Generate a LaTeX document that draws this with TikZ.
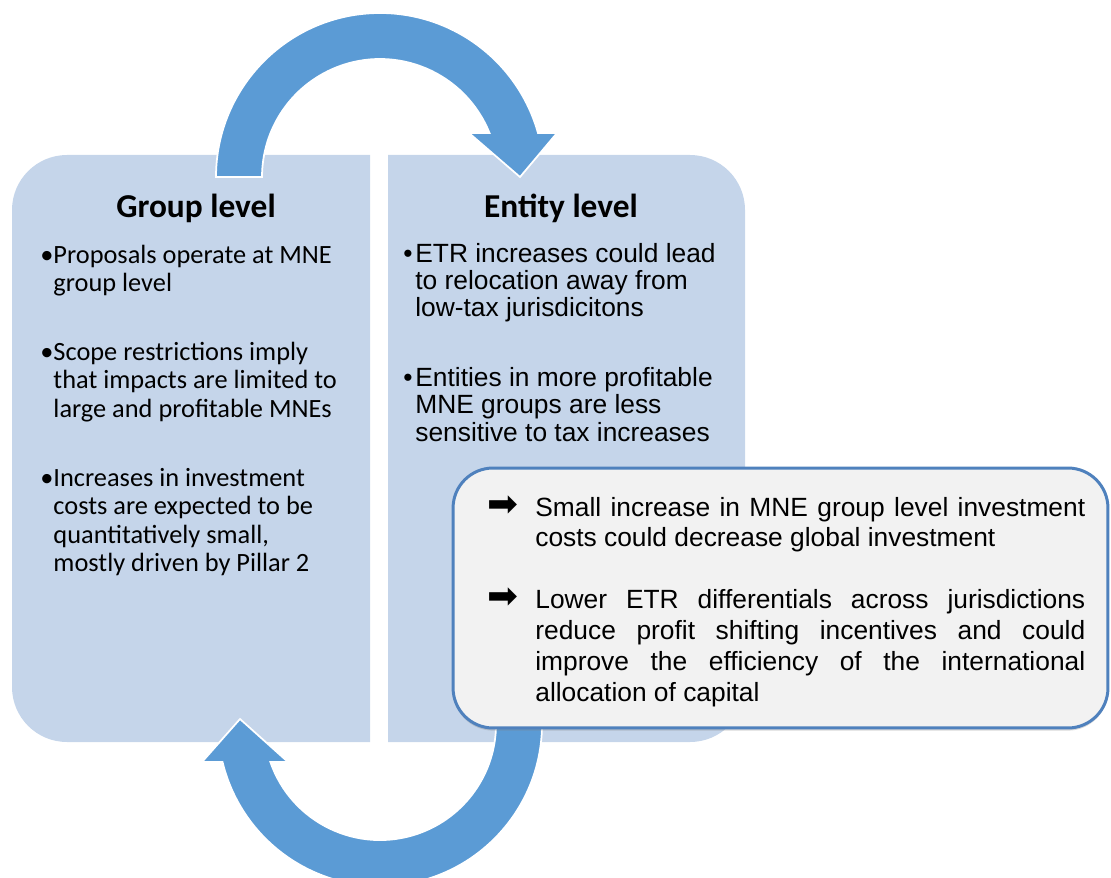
\documentclass[tikz,border=0pt]{standalone}
\usepackage{fontspec}
\setmainfont{Carlito}
\newfontfamily\arialfont{Liberation Sans}
\newfontfamily\dejavufont{DejaVu Sans}
\definecolor{panelblue}{RGB}{197,213,234}
\definecolor{arrowblue}{RGB}{91,155,213}
\definecolor{calloutblue}{RGB}{79,129,189}
\definecolor{calloutgray}{RGB}{242,242,242}
\usetikzlibrary{shadows}

\begin{document}
\begin{tikzpicture}[x=0.02cm,y=0.02cm,
      panel/.style={fill=panelblue},
      bigarrow/.style={fill=arrowblue,draw=white,line width=1pt},
      title/.style={anchor=base,inner sep=0pt,font=\fontsize{19}{22}\selectfont\bfseries},
      grouplist/.style={anchor=base west,inner sep=0pt,font=\fontsize{15}{16.2}\selectfont},
      entitylist/.style={anchor=base west,inner sep=0pt,font=\arialfont\fontsize{15}{15.6}\selectfont},
      impactlist/.style={anchor=base west,inner sep=0pt,font=\arialfont\fontsize{15}{17.6}\selectfont},
      calloutbox/.style={rectangle,rounded corners=0.8cm,draw=calloutblue,fill=calloutgray,line width=1.7pt,minimum width=13.1cm,minimum height=5.2cm,inner sep=0pt,drop shadow={shadow xshift=0pt,shadow yshift=-1.5pt,opacity=0.3}}
    ]
    \useasboundingbox (0,0) rectangle (1111,877);

    % the two level panels
    \fill[panel] (370,722) -- (67,722) arc[start angle=90,end angle=180,radius=55] -- (12,190) arc[start angle=180,end angle=270,radius=55] -- (370,135) -- cycle;
    \fill[panel] (388,135) -- (388,722) -- (690,722) arc[start angle=90,end angle=0,radius=55] -- (745,190) arc[start angle=0,end angle=-90,radius=55] -- cycle;

    % circular arrows
    \draw[bigarrow] (216,700) arc[start angle=180,end angle=15.6,radius=164] -- (557,744) -- (520,700) -- (469,744) -- (489.5,744) arc[start angle=21.9,end angle=180,radius=118] -- cycle;
    \draw[bigarrow] (542,153) arc[start angle=0,end angle=-166.4,radius=162] -- (202,115) -- (240,158) -- (288,115) -- (270.4,115) arc[start angle=-160.9,end angle=0,radius=116] -- cycle;

    \node[calloutbox] (impact) at (780.5,279) {};

    \node[title] (grouptitle) at (196,660) {Group level};
    \node[title] (entitytitle) at (561,660) {Entity level};

    \node[grouplist] (groupitems) at (40,614) {\begin{tabular}[t]{@{}l@{}l@{}}
      \makebox[0.22cm][l]{\textbullet} & Proposals operate at MNE\\
       & group level\\[23pt]
      \textbullet & Scope restrictions imply\\
       & that impacts are limited to\\
       & large and profitable MNEs\\[23pt]
      \textbullet & Increases in investment\\
       & costs are expected to be\\
       & quantitatively small,\\
       & mostly driven by Pillar 2
    \end{tabular}};

    \node[entitylist] (entityitems) at (403,615) {\begin{tabular}[t]{@{}l@{}l@{}}
      \makebox[0.24cm][l]{\textbullet} & ETR increases could lead\\
       & to relocation away from\\
       & low-tax jurisdicitons\\[24pt]
      \textbullet & Entities in more profitable\\
       & MNE groups are less\\
       & sensitive to tax increases
    \end{tabular}};

    \node[impactlist] (impactitems) at (487,361) {\begin{tabular}[t]{@{}l@{}l@{}}
      \makebox[0.96cm][l]{\dejavufont\fontsize{21}{17.6}\selectfont ➡} & \makebox[11cm][s]{Small increase in MNE group level investment}\\
       & costs could decrease global investment\\[17.6pt]
      \dejavufont\fontsize{21}{17.6}\selectfont ➡ & \makebox[11cm][s]{Lower ETR differentials across jurisdictions}\\
       & \makebox[11cm][s]{reduce profit shifting incentives and could}\\
       & \makebox[11cm][s]{improve the efficiency of the international}\\
       & allocation of capital
    \end{tabular}};
  \end{tikzpicture}
\end{document}
